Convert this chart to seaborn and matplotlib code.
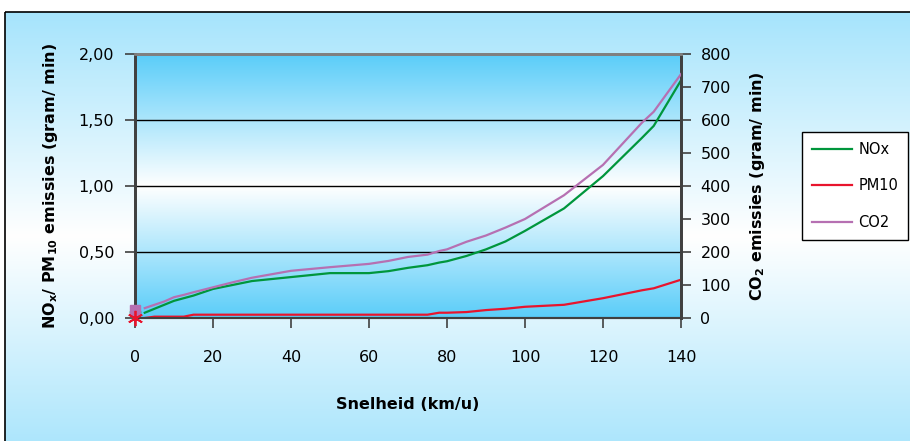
import numpy as np
import matplotlib
matplotlib.use("Agg")
import matplotlib.pyplot as plt
import seaborn as sns
from matplotlib.patches import Rectangle
from matplotlib.colors import to_rgb

# snelheid (km/u) and emissions
speed = [2.5, 5, 7.5, 10, 12.5, 15, 20, 25, 30, 40, 50, 60, 65, 70, 75,
         78, 80, 85, 90, 95, 100, 110, 120, 130, 133, 140]
nox = [0.04, 0.07, 0.10, 0.13, 0.15, 0.17, 0.22, 0.25, 0.28, 0.31, 0.34, 0.34,
       0.355, 0.38, 0.40, 0.42, 0.43, 0.47, 0.52, 0.58, 0.66, 0.83, 1.075,
       1.365, 1.455, 1.80]
pm10 = [0.0, 0.01, 0.01, 0.01, 0.01, 0.025, 0.025, 0.025, 0.025, 0.025, 0.025,
        0.025, 0.025, 0.025, 0.025, 0.04, 0.04, 0.045, 0.06, 0.07, 0.085, 0.10,
        0.15, 0.21, 0.225, 0.29]
co2 = [30, 40, 50, 63, 70, 78, 93, 108, 122, 143, 154, 164, 173, 185, 192, 203,
       208, 231, 250, 274, 300, 372, 464, 592, 625, 739]

# first data point (speed 0) only shown as a marker
start_speed = [0]
start_nox = [0.045]
start_pm10 = [0.0]
start_co2 = [24]

x_ticks = [0, 20, 40, 60, 80, 100, 120, 140]
left_ticks = [0.0, 0.5, 1.0, 1.5, 2.0]
left_ticklabels = ["0,00", "0,50", "1,00", "1,50", "2,00"]
right_ticks = [0, 100, 200, 300, 400, 500, 600, 700, 800]

GREEN = "#00963C"
RED = "#E8142D"
PURPLE = "#B670B2"
SKY = "#5ACDF9"
PALE = "#A6E4FC"

plt.rcParams["font.family"] = ["DejaVu Sans"]
plt.rcParams["mathtext.default"] = "regular"

W, H = 910, 441
fig = plt.figure(figsize=(W / 100, H / 100), dpi=100)


def vgrad(color, n=256):
    """white in the middle, colour at top and bottom"""
    t = np.abs(np.linspace(-1, 1, n))[:, None]
    c = np.array(to_rgb(color))[None, :]
    img = (1 - t) * 1.0 + t * c
    return img[:, None, :]


# --- outer chart area background
bg = fig.add_axes([0, 0, 1, 1], zorder=-5)
bg.axis("off")
bg.imshow(vgrad(PALE), extent=[5, W + 10, 460, 12], aspect="auto")
bg.add_patch(Rectangle((5, 12), W + 10, 460, fill=False, edgecolor="black", lw=1.2))
bg.set_xlim(0, W)
bg.set_ylim(H, 0)

# --- plot area
L, R, T, B = 135, 681, 54, 318
ax = fig.add_axes([L / W, 1 - B / H, (R - L) / W, (B - T) / H])
ax.imshow(vgrad(SKY), extent=[0, 1, 0, 1], transform=ax.transAxes,
          aspect="auto", zorder=0)
ax2 = ax.twinx()

for yv in [0.5, 1.0, 1.5]:
    ax.axhline(yv, color="black", lw=1.0, zorder=1)

sns.lineplot(ax=ax, x=speed, y=nox, color=GREEN, lw=1.6, errorbar=None,
             label="NOx", legend=False, zorder=3)
sns.lineplot(ax=ax, x=speed, y=pm10, color=RED, lw=1.6, errorbar=None,
             label="PM10", legend=False, zorder=3)
sns.lineplot(ax=ax2, x=speed, y=co2, color=PURPLE, lw=1.6, errorbar=None,
             label="CO2", legend=False, zorder=3)

ax.set_xlim(0, 140)
ax.set_ylim(0, 2)
ax2.set_ylim(0, 800)

# speed-0 markers, all on the top axes so they sit above the plot area
to_right = 800 / 2
ax2.plot(start_speed, [v * to_right for v in start_nox], marker="o", ms=7,
         mfc="none", mec=GREEN, mew=1.3, ls="none", clip_on=False, zorder=4)
ax2.plot(start_speed, start_co2, marker="s", ms=7, mfc=PURPLE, mec=PURPLE,
         ls="none", clip_on=False, zorder=5)
ax2.plot(start_speed, [v * to_right for v in start_pm10], marker=(6, 2, 0),
         ms=11, mec=RED, mew=1.3, ls="none", clip_on=False, zorder=6)

ax.set_xticks(x_ticks)
ax.set_xticklabels([str(v) for v in x_ticks])
ax.set_yticks(left_ticks)
ax.set_yticklabels(left_ticklabels)
ax2.set_yticks(right_ticks)
ax2.set_yticklabels([str(v) for v in right_ticks])

ax.tick_params(axis="x", direction="out", length=7, width=1.2, pad=16,
               labelsize=11.5, color="#404040")
ax.tick_params(axis="y", direction="out", length=7, width=1.2, pad=8,
               labelsize=11.5, color="#404040")
ax2.tick_params(axis="y", direction="out", length=7, width=1.2, pad=7,
                labelsize=11.5, color="#404040")

for a in (ax, ax2):
    a.spines["left"].set_color("#404040")
    a.spines["right"].set_color("#404040")
    a.spines["left"].set_linewidth(2)
    a.spines["right"].set_linewidth(2)
    a.spines["top"].set_color("#808080")
    a.spines["top"].set_linewidth(2)
    a.spines["bottom"].set_color("#404040")
    a.spines["bottom"].set_linewidth(1.5)

ax.set_xlabel("Snelheid (km/u)", fontsize=11.5, fontweight="bold")
ax.set_ylabel("NO$_x$/ PM$_{10}$ emissies (gram/ min)", fontsize=11.5,
              fontweight="bold")
ax2.set_ylabel("CO$_2$ emissies (gram/ min)", fontsize=11.5, fontweight="bold")
ax.xaxis.set_label_coords(0.5, -0.30)
ax.yaxis.set_label_coords(-0.137, 0.5)
ax2.yaxis.set_label_coords(1.123, 0.5)

h1, l1 = ax.get_legend_handles_labels()
h2, l2 = ax2.get_legend_handles_labels()
leg = fig.legend(h1 + h2, l1 + l2, loc="center left",
                 bbox_to_anchor=(802 / W, 1 - 186 / H), frameon=True,
                 fancybox=False, edgecolor="black", facecolor="white",
                 framealpha=1, fontsize=10.5, handlelength=2.7,
                 labelspacing=1.45, borderpad=0.7, handletextpad=0.45,
                 borderaxespad=0)
leg.get_frame().set_linewidth(1.0)

fig.savefig("out.png", dpi=100)
